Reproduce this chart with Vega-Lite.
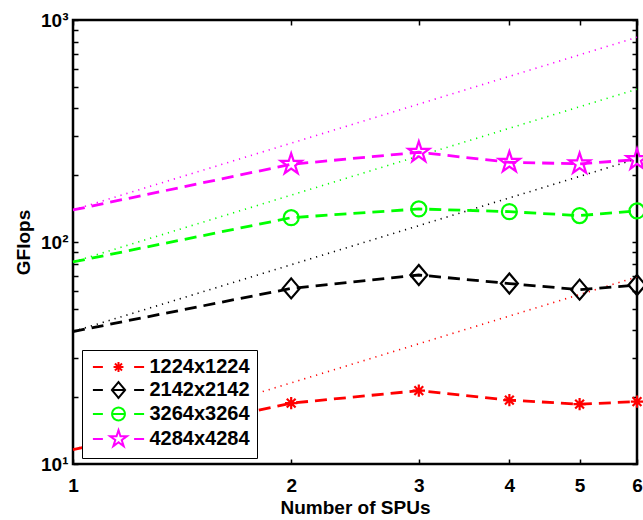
{
  "$schema": "https://vega.github.io/schema/vega-lite/v6.json",
  "width": 564,
  "height": 444,
  "autosize": {"type": "none"},
  "padding": {"left": 73, "top": 20, "right": 6, "bottom": 56},
  "background": "white",
  "config": {
    "view": {"stroke": "black", "strokeWidth": 2.5},
    "font": "Liberation Sans",
    "axis": {
      "domain": false, "grid": false, "tickColor": "black", "tickWidth": 1.5,
      "labelColor": "black", "labelFont": "Liberation Sans", "labelFontWeight": "bold", "labelFontSize": 19,
      "titleFont": "Liberation Sans", "titleFontWeight": "bold", "titleFontSize": 19, "titleColor": "black",
      "labelFlush": false, "labelOverlap": false
    },
    "legend": {"labelFont": "Liberation Sans", "labelFontWeight": "bold", "labelFontSize": 20, "labelColor": "black"}
  },
  "data": {
    "values": [
      {"series": "1224x1224", "kind": "ideal", "spus": 1, "gflops": 11.6},
      {"series": "1224x1224", "kind": "ideal", "spus": 6, "gflops": 69.6},
      {"series": "2142x2142", "kind": "ideal", "spus": 1, "gflops": 39.5},
      {"series": "2142x2142", "kind": "ideal", "spus": 6, "gflops": 237},
      {"series": "3264x3264", "kind": "ideal", "spus": 1, "gflops": 81.3},
      {"series": "3264x3264", "kind": "ideal", "spus": 6, "gflops": 488},
      {"series": "4284x4284", "kind": "ideal", "spus": 1, "gflops": 139.4},
      {"series": "4284x4284", "kind": "ideal", "spus": 6, "gflops": 836},
      {"series": "1224x1224", "kind": "measured", "spus": 1, "gflops": 11.6},
      {"series": "1224x1224", "kind": "measured", "spus": 2, "gflops": 18.8},
      {"series": "1224x1224", "kind": "measured", "spus": 3, "gflops": 21.4},
      {"series": "1224x1224", "kind": "measured", "spus": 4, "gflops": 19.4},
      {"series": "1224x1224", "kind": "measured", "spus": 5, "gflops": 18.6},
      {"series": "1224x1224", "kind": "measured", "spus": 6, "gflops": 19.1},
      {"series": "2142x2142", "kind": "measured", "spus": 1, "gflops": 39.5},
      {"series": "2142x2142", "kind": "measured", "spus": 2, "gflops": 61.8},
      {"series": "2142x2142", "kind": "measured", "spus": 3, "gflops": 71.0},
      {"series": "2142x2142", "kind": "measured", "spus": 4, "gflops": 65.0},
      {"series": "2142x2142", "kind": "measured", "spus": 5, "gflops": 61.0},
      {"series": "2142x2142", "kind": "measured", "spus": 6, "gflops": 64.0},
      {"series": "3264x3264", "kind": "measured", "spus": 1, "gflops": 81.3},
      {"series": "3264x3264", "kind": "measured", "spus": 2, "gflops": 128.7},
      {"series": "3264x3264", "kind": "measured", "spus": 3, "gflops": 140.9},
      {"series": "3264x3264", "kind": "measured", "spus": 4, "gflops": 137.0},
      {"series": "3264x3264", "kind": "measured", "spus": 5, "gflops": 131.5},
      {"series": "3264x3264", "kind": "measured", "spus": 6, "gflops": 138.0},
      {"series": "4284x4284", "kind": "measured", "spus": 1, "gflops": 139.4},
      {"series": "4284x4284", "kind": "measured", "spus": 2, "gflops": 223.9},
      {"series": "4284x4284", "kind": "measured", "spus": 3, "gflops": 253.6},
      {"series": "4284x4284", "kind": "measured", "spus": 4, "gflops": 228.6},
      {"series": "4284x4284", "kind": "measured", "spus": 5, "gflops": 225.0},
      {"series": "4284x4284", "kind": "measured", "spus": 6, "gflops": 235.0}
    ]
  },
  "layer": [
    {
      "transform": [{"filter": "datum.kind === 'ideal'"}],
      "mark": {"type": "line", "strokeDash": [1.2, 5], "strokeWidth": 1.6, "clip": false},
      "encoding": {
        "x": {"field": "spus", "type": "quantitative", "scale": {"type": "log", "domain": [1, 6], "nice": false},
          "axis": {"orient": "bottom", "values": [1, 2, 3, 4, 5, 6], "format": "d", "tickSize": -5, "labelPadding": 17, "title": "Number of SPUs", "titlePadding": 3}},
        "y": {"field": "gflops", "type": "quantitative", "scale": {"type": "log", "domain": [10, 1000], "nice": false},
          "axis": {"orient": "left", "values": [10, 20, 30, 40, 50, 60, 70, 80, 90, 100, 200, 300, 400, 500, 600, 700, 800, 900, 1000],
            "labelExpr": "datum.value == 10 ? '10¹' : datum.value == 100 ? '10²' : datum.value == 1000 ? '10³' : ''",
            "tickSize": -5, "labelPadding": 10, "title": "GFlops", "titlePadding": 7}},
        "color": {"field": "series", "type": "nominal",
          "scale": {"domain": ["1224x1224", "2142x2142", "3264x3264", "4284x4284"], "range": ["#ff0000", "#000000", "#00ff00", "#ff00ff"]},
          "legend": null},
        "detail": {"field": "series"}
      }
    },
    {
      "transform": [{"filter": "datum.kind === 'measured'"}],
      "mark": {"type": "line", "strokeDash": [12, 7], "strokeWidth": 2.8, "clip": false},
      "encoding": {
        "x": {"field": "spus", "type": "quantitative", "scale": {"type": "log", "domain": [1, 6], "nice": false},
          "axis": {"orient": "top", "values": [1, 2, 3, 4, 5, 6], "labels": false, "tickSize": -5, "title": null}},
        "y": {"field": "gflops", "type": "quantitative", "scale": {"type": "log", "domain": [10, 1000], "nice": false},
          "axis": {"orient": "right", "values": [10, 20, 30, 40, 50, 60, 70, 80, 90, 100, 200, 300, 400, 500, 600, 700, 800, 900, 1000], "labels": false, "tickSize": -5, "title": null}},
        "color": {"field": "series", "type": "nominal",
          "scale": {"domain": ["1224x1224", "2142x2142", "3264x3264", "4284x4284"], "range": ["#ff0000", "#000000", "#00ff00", "#ff00ff"]},
          "legend": {
            "title": null, "orient": "none", "legendX": 9, "legendY": 330,
            "fillColor": "white", "strokeColor": "black", "padding": 7,
            "labelFont": "Liberation Sans", "labelFontWeight": "bold", "labelFontSize": 20, "labelColor": "black",
            "symbolSize": 256, "symbolOffset": 19.5, "labelOffset": 21, "rowPadding": 1,
            "symbolStrokeWidth": 2,
            "encode": {
              "labels": {"update": {"fontWeight": {"value": "bold"}, "fontSize": {"value": 20}, "font": {"value": "Liberation Sans"}}},
              "symbols": {"update": {
              "shape": {"signal": "datum.value === '1224x1224' ? 'M-3.2,0H-1.95M1.95,0H3.2M-0.62,0H0.62M0,-0.62V0.62M-0.44,-0.44L0.44,0.44M-0.44,0.44L0.44,-0.44' : datum.value === '2142x2142' ? 'M-3.2,0H-1.95M1.95,0H3.2M-0.8,0H0.8M0,-1L0.82,0L0,1L-0.82,0Z' : datum.value === '3264x3264' ? 'M-3.2,0H-1.95M1.95,0H3.2M-0.8,0H0.8M0.8,0A0.8,0.8 0 1,1 -0.8,0A0.8,0.8 0 1,1 0.8,0Z' : 'M-3.2,0H-1.95M1.95,0H3.2M0,-1.1L0.247,-0.34L1.046,-0.34L0.4,0.13L0.647,0.89L0,0.42L-0.647,0.89L-0.4,0.13L-1.046,-0.34L-0.247,-0.34Z'"},
              "fill": {"value": "transparent"},
              "strokeWidth": {"value": 2},
              "strokeDash": {"value": [1, 0]},
              "opacity": {"value": 1}
            }}}
          }},
        "detail": {"field": "series"}
      }
    },
    {
      "transform": [{"filter": "datum.kind === 'measured' && datum.spus >= 2"}],
      "mark": {"type": "point", "filled": false, "strokeWidth": 2.2, "size": 400, "opacity": 1, "clip": false},
      "encoding": {
        "x": {"field": "spus", "type": "quantitative", "scale": {"type": "log", "domain": [1, 6], "nice": false}, "axis": null},
        "y": {"field": "gflops", "type": "quantitative", "scale": {"type": "log", "domain": [10, 1000], "nice": false}, "axis": null},
        "color": {"field": "series", "type": "nominal",
          "scale": {"domain": ["1224x1224", "2142x2142", "3264x3264", "4284x4284"], "range": ["#ff0000", "#000000", "#00ff00", "#ff00ff"]},
          "legend": null},
        "shape": {"field": "series", "type": "nominal",
          "scale": {"domain": ["1224x1224", "2142x2142", "3264x3264", "4284x4284"],
            "range": [
              "M-0.62,0H0.62M0,-0.62V0.62M-0.44,-0.44L0.44,0.44M-0.44,0.44L0.44,-0.44",
              "M0,-1L0.85,0L0,1L-0.85,0Z",
              "M0.75,0A0.75,0.75 0 1,1 -0.75,0A0.75,0.75 0 1,1 0.75,0Z",
              "M0,-1.1L0.247,-0.34L1.046,-0.34L0.4,0.13L0.647,0.89L0,0.42L-0.647,0.89L-0.4,0.13L-1.046,-0.34L-0.247,-0.34Z"
            ]},
          "legend": null}
      }
    }
  ],
  "resolve": {"axis": {"x": "independent", "y": "independent"}, "legend": {"color": "independent", "shape": "independent"}}
}
